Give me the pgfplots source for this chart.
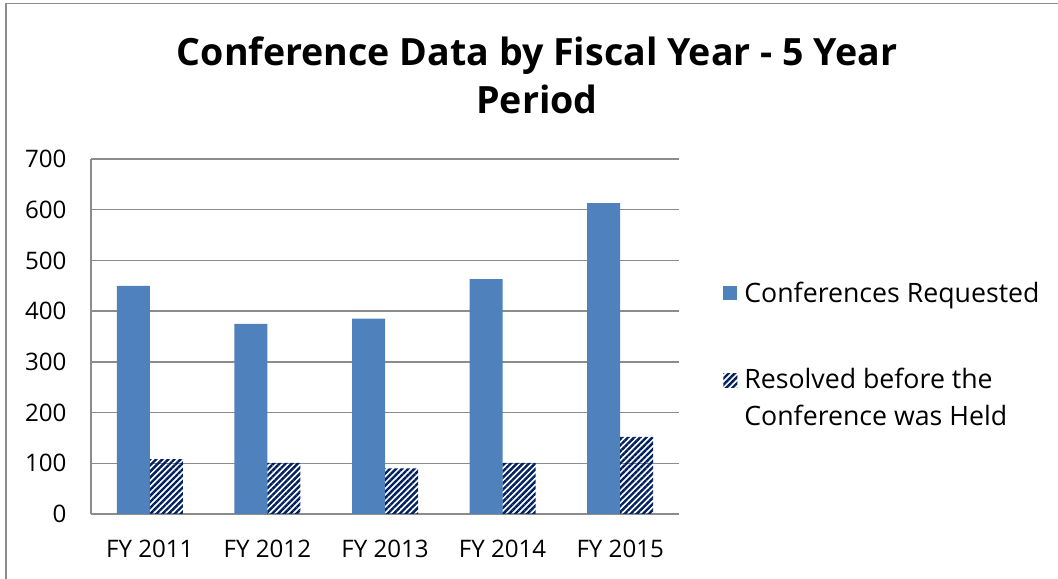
\documentclass[border=0pt]{standalone}
\usepackage{fontspec}
\setmainfont{Open Sans}
\usepackage{pgfplots}
\pgfplotsset{compat=1.18}
\usetikzlibrary{patterns.meta}
\definecolor{reqblue}{HTML}{4F81BD}
\definecolor{navy}{HTML}{002060}
\definecolor{axgray}{HTML}{8C8C8C}
\pgfplotsset{legimgB/.style={legend image code/.code={\path[##1] (0bp,10bp) rectangle (14bp,24bp);}}}
\begin{document}
\begin{tikzpicture}[x=1bp,y=1bp]
\useasboundingbox (0,0) rectangle (1058,579);
\draw[axgray, line width=1.6bp] (6,-5) -- (6,575.5) -- (1065,575.5);
\node[font=\fontsize{37.7}{48}\selectfont\bfseries, align=center] at (537,504) {Conference Data by Fiscal Year - 5 Year\\Period};
\begin{axis}[
  at={(91bp,65bp)}, anchor=south west,
  scale only axis, width=588bp, height=355bp,
  xmin=-0.5, xmax=4.5, ymin=0, ymax=700,
  ytick={0,100,...,700},
  xtick=data,
  xticklabels={FY 2011,FY 2012,FY 2013,FY 2014,FY 2015},
  ybar=0pt, bar width=33bp,
  ymajorgrids, grid style={axgray, line width=1.3bp},
  axis x line*=bottom, axis y line*=left,
  axis line style={axgray, line width=1.3bp, -},
  major tick length=0pt,
  ticklabel style={font=\fontsize{24.2}{30}\selectfont},
  /pgf/number format/assume math mode=true,
  xticklabel style={yshift=-23bp},
  yticklabel style={xshift=-21bp},
  legend style={at={(1.07,0.45)}, anchor=west, draw=none, fill=none,
     font=\fontsize{26.8}{37}\selectfont, row sep=60bp, column sep=5bp,
     nodes={align=left}},
  legend cell align=left,
  legend image code/.code={\path[#1] (0bp,-7bp) rectangle (14bp,7bp);},
]
\addplot[fill=reqblue, draw=none] coordinates {(0,450) (1,375) (2,385) (3,463) (4,613)};
\addplot[draw=none, pattern={Lines[angle=45,distance=4.3bp,line width=2.4bp]}, pattern color=navy,
  legimgB] coordinates {(0,108) (1,101) (2,90) (3,101) (4,152)};
\legend{Conferences Requested, Resolved before the\\Conference was Held}
\end{axis}
\end{tikzpicture}
\end{document}
